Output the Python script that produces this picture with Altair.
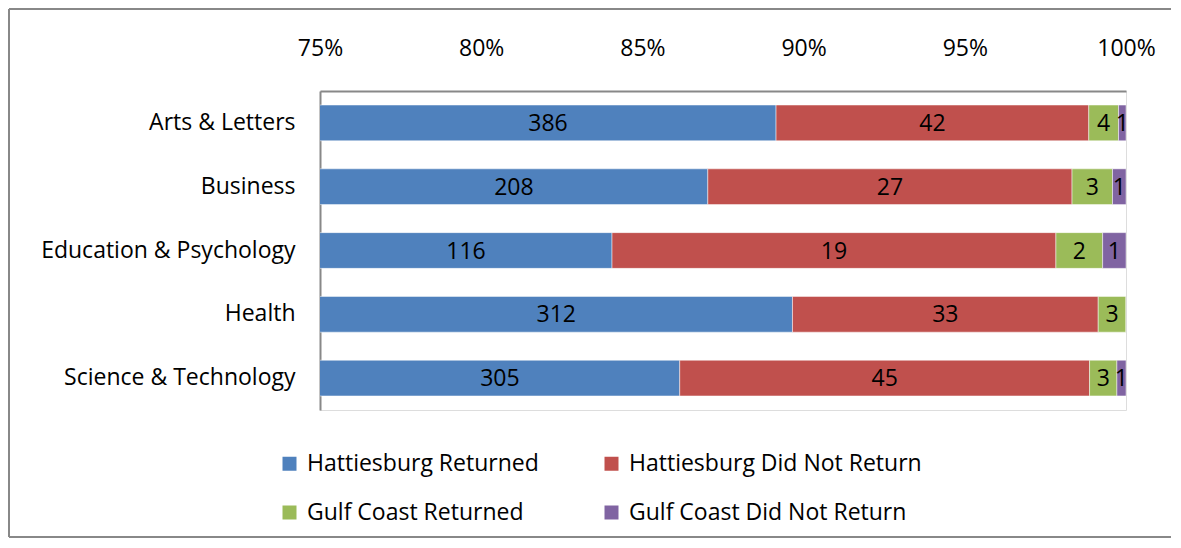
import altair as alt
import pandas as pd

colleges = ["Arts & Letters", "Business", "Education & Psychology", "Health", "Science & Technology"]
series = ["Hattiesburg Returned", "Hattiesburg Did Not Return", "Gulf Coast Returned", "Gulf Coast Did Not Return"]
hatt_returned = [386, 208, 116, 312, 305]
hatt_not_returned = [42, 27, 19, 33, 45]
gulf_returned = [4, 3, 2, 3, 3]
gulf_not_returned = [1, 1, 1, 0, 1]
colors = ["#4F81BD", "#C0504D", "#9BBB59", "#8064A2"]
x_ticks = [0.75, 0.80, 0.85, 0.90, 0.95, 1.00]
x_min = 0.75

FONT = "Open Sans"
FS = 23

rows = []
for i, c in enumerate(colleges):
    vals = [hatt_returned[i], hatt_not_returned[i], gulf_returned[i], gulf_not_returned[i]]
    total = sum(vals)
    cum = 0
    for k, (s, v) in enumerate(zip(series, vals)):
        start = cum / total
        end = (cum + v) / total
        cum += v
        vis_start = max(start, x_min)
        rows.append({
            "college": c, "series": s, "order": k, "count": v,
            "start": start, "end": end,
            "mid": (vis_start + end) / 2,
            "label": str(v) if v > 0 else "",
        })
df = pd.DataFrame(rows)

xscale = alt.Scale(domain=[0.75, 1.0], nice=False, zero=False)
yscale = alt.Scale(domain=colleges, paddingInner=0.44, paddingOuter=0.22)

base = alt.Chart(df)

bars = base.mark_bar(clip=True, stroke="white", strokeWidth=0.8, strokeOpacity=0.6).encode(
    x=alt.X("start:Q", scale=xscale,
            axis=alt.Axis(orient="top", format=".0%", values=x_ticks, title=None,
                          grid=False, ticks=False, domainColor="#888888", domainWidth=2,
                          labelPadding=31, labelFontSize=FS, labelFont=FONT,
                          labelColor="black", labelFlush=False)),
    x2="end:Q",
    y=alt.Y("college:N", scale=yscale, sort=colleges,
            axis=alt.Axis(title=None, ticks=False, domainColor="#888888", domainWidth=2,
                          labelPadding=25, labelFontSize=FS, labelFont=FONT,
                          labelColor="black", labelLimit=400)),
    color=alt.Color("series:N", scale=alt.Scale(domain=series, range=colors),
                    legend=alt.Legend(title=None, orient="none", legendX=-42, legendY=361,
                                      direction="horizontal",
                                      columns=2, columnPadding=61, rowPadding=25,
                                      symbolType="square", symbolSize=196,
                                      symbolStrokeWidth=0, labelFontSize=FS,
                                      labelFont=FONT, labelColor="black",
                                      labelLimit=400, labelOffset=6)),
    order=alt.Order("order:Q"),
)

labels = base.transform_filter("datum.count > 0").mark_text(
    fontSize=FS, font=FONT, color="black", baseline="middle", align="center", dy=1
).encode(
    x=alt.X("mid:Q", scale=xscale),
    y=alt.Y("college:N", scale=yscale, sort=colleges),
    text="label:N",
)

frame_data = pd.DataFrame({"a": [0]})
frame_style = dict(color="#888888", strokeWidth=2)
frame_left = alt.Chart(frame_data).mark_rule(**frame_style).encode(
    x=alt.value(-311), y=alt.value(-82), y2=alt.value(446)
)
frame_top = alt.Chart(frame_data).mark_rule(**frame_style).encode(
    x=alt.value(-311), x2=alt.value(851), y=alt.value(-82)
)
frame_bottom = alt.Chart(frame_data).mark_rule(**frame_style).encode(
    x=alt.value(-311), x2=alt.value(851), y=alt.value(446)
)

chart = alt.layer(frame_left, frame_top, frame_bottom, bars, labels).properties(
    width=806, height=319,
    autosize=alt.AutoSizeParams(type="none"),
    padding={"left": 312, "top": 83, "right": 47, "bottom": 136},
).configure_view(stroke=None).configure(background="white")

chart.save("out.html", embed_options={"renderer": "svg", "actions": False})
